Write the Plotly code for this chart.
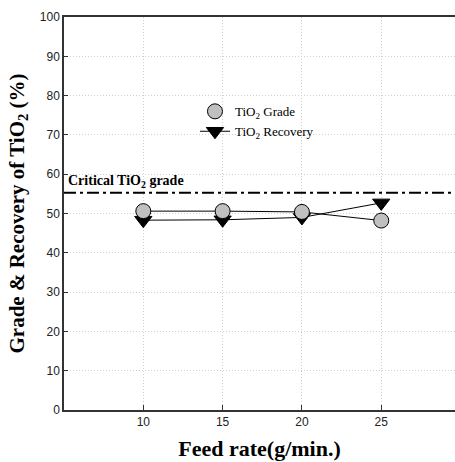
import plotly.graph_objects as go

feed_rate = [10, 15, 20, 25]
tio2_grade = [50.6, 50.6, 50.4, 48.2]
tio2_recovery = [48.3, 48.4, 49.0, 52.7]
critical_grade = 55.3
x_span = [5, 29.65]
y_ticks = [0, 10, 20, 30, 40, 50, 60, 70, 80, 90, 100]
x_ticks = [10, 15, 20, 25]

serif = "Liberation Serif, Times New Roman, serif"
sans = "Liberation Sans, Arial, sans-serif"

fig = go.Figure()

# critical grade line
fig.add_trace(go.Scatter(
    x=x_span, y=[critical_grade, critical_grade], mode="lines",
    line=dict(color="black", width=2, dash="12px,4px,3px,4px"),
    showlegend=False, hoverinfo="skip"))

# grade line (no legend line)
fig.add_trace(go.Scatter(
    x=feed_rate, y=tio2_grade, mode="lines",
    line=dict(color="black", width=1), showlegend=False))

# recovery
fig.add_trace(go.Scatter(
    x=feed_rate, y=tio2_recovery, mode="lines+markers",
    name="TiO<sub>2</sub> Recovery", legendgroup="r",
    line=dict(color="black", width=1),
    marker=dict(symbol="triangle-down", size=15, color="black",
                line=dict(color="black", width=1))))

# grade markers
fig.add_trace(go.Scatter(
    x=feed_rate, y=tio2_grade, mode="markers",
    name="TiO<sub>2</sub> Grade", legendgroup="g",
    marker=dict(symbol="circle", size=15, color="#c0c0c0",
                line=dict(color="black", width=1))))

fig.add_annotation(
    x=5.15, y=critical_grade, xref="x", yref="y", xanchor="left", yanchor="bottom",
    yshift=1, showarrow=False,
    text="<b>Critical TiO<sub>2</sub> grade</b>",
    font=dict(family=serif, size=14, color="black"))

fig.add_annotation(
    x=0, y=0.5, xref="paper", yref="paper", xanchor="center", yanchor="middle",
    xshift=-47, textangle=-90, showarrow=False,
    text="<b>Grade &amp; Recovery of TiO<sub>2</sub> (%)</b>",
    font=dict(family=serif, size=21, color="black"))

fig.update_layout(
    width=455, height=462,
    margin=dict(l=64, r=0, t=17, b=52),
    paper_bgcolor="white", plot_bgcolor="white",
    legend=dict(
        x=0.335, y=0.798, xanchor="left", yanchor="top",
        bgcolor="rgba(0,0,0,0)", font=dict(family=serif, size=13, color="black"),
        traceorder="reversed", itemwidth=30, tracegroupgap=5),
    xaxis=dict(
        range=x_span, tickvals=x_ticks, ticks="inside", ticklen=5, tickcolor="#333",
        showline=True, linecolor="#333", linewidth=1.5, mirror=True,
        showgrid=True, gridcolor="#d0d0d0", griddash="1px,2px", gridwidth=1,
        zeroline=False,
        tickfont=dict(family=sans, size=12, color="#222"),
        title=dict(text="<b>Feed rate(g/min.)</b>", standoff=12,
                   font=dict(family=serif, size=22, color="black"))),
    yaxis=dict(
        range=[0, 100], tickvals=y_ticks, ticks="inside", ticklen=4, tickcolor="#333",
        showline=True, linecolor="#333", linewidth=1.5,
        showgrid=True, gridcolor="#d0d0d0", griddash="1px,2px", gridwidth=1,
        zeroline=False,
        tickfont=dict(family=sans, size=12, color="#222")),
)

fig.write_html("out.html", config={"displayModeBar": False},
               post_script="document.body.style.margin='0';document.body.style.overflow='hidden';")
